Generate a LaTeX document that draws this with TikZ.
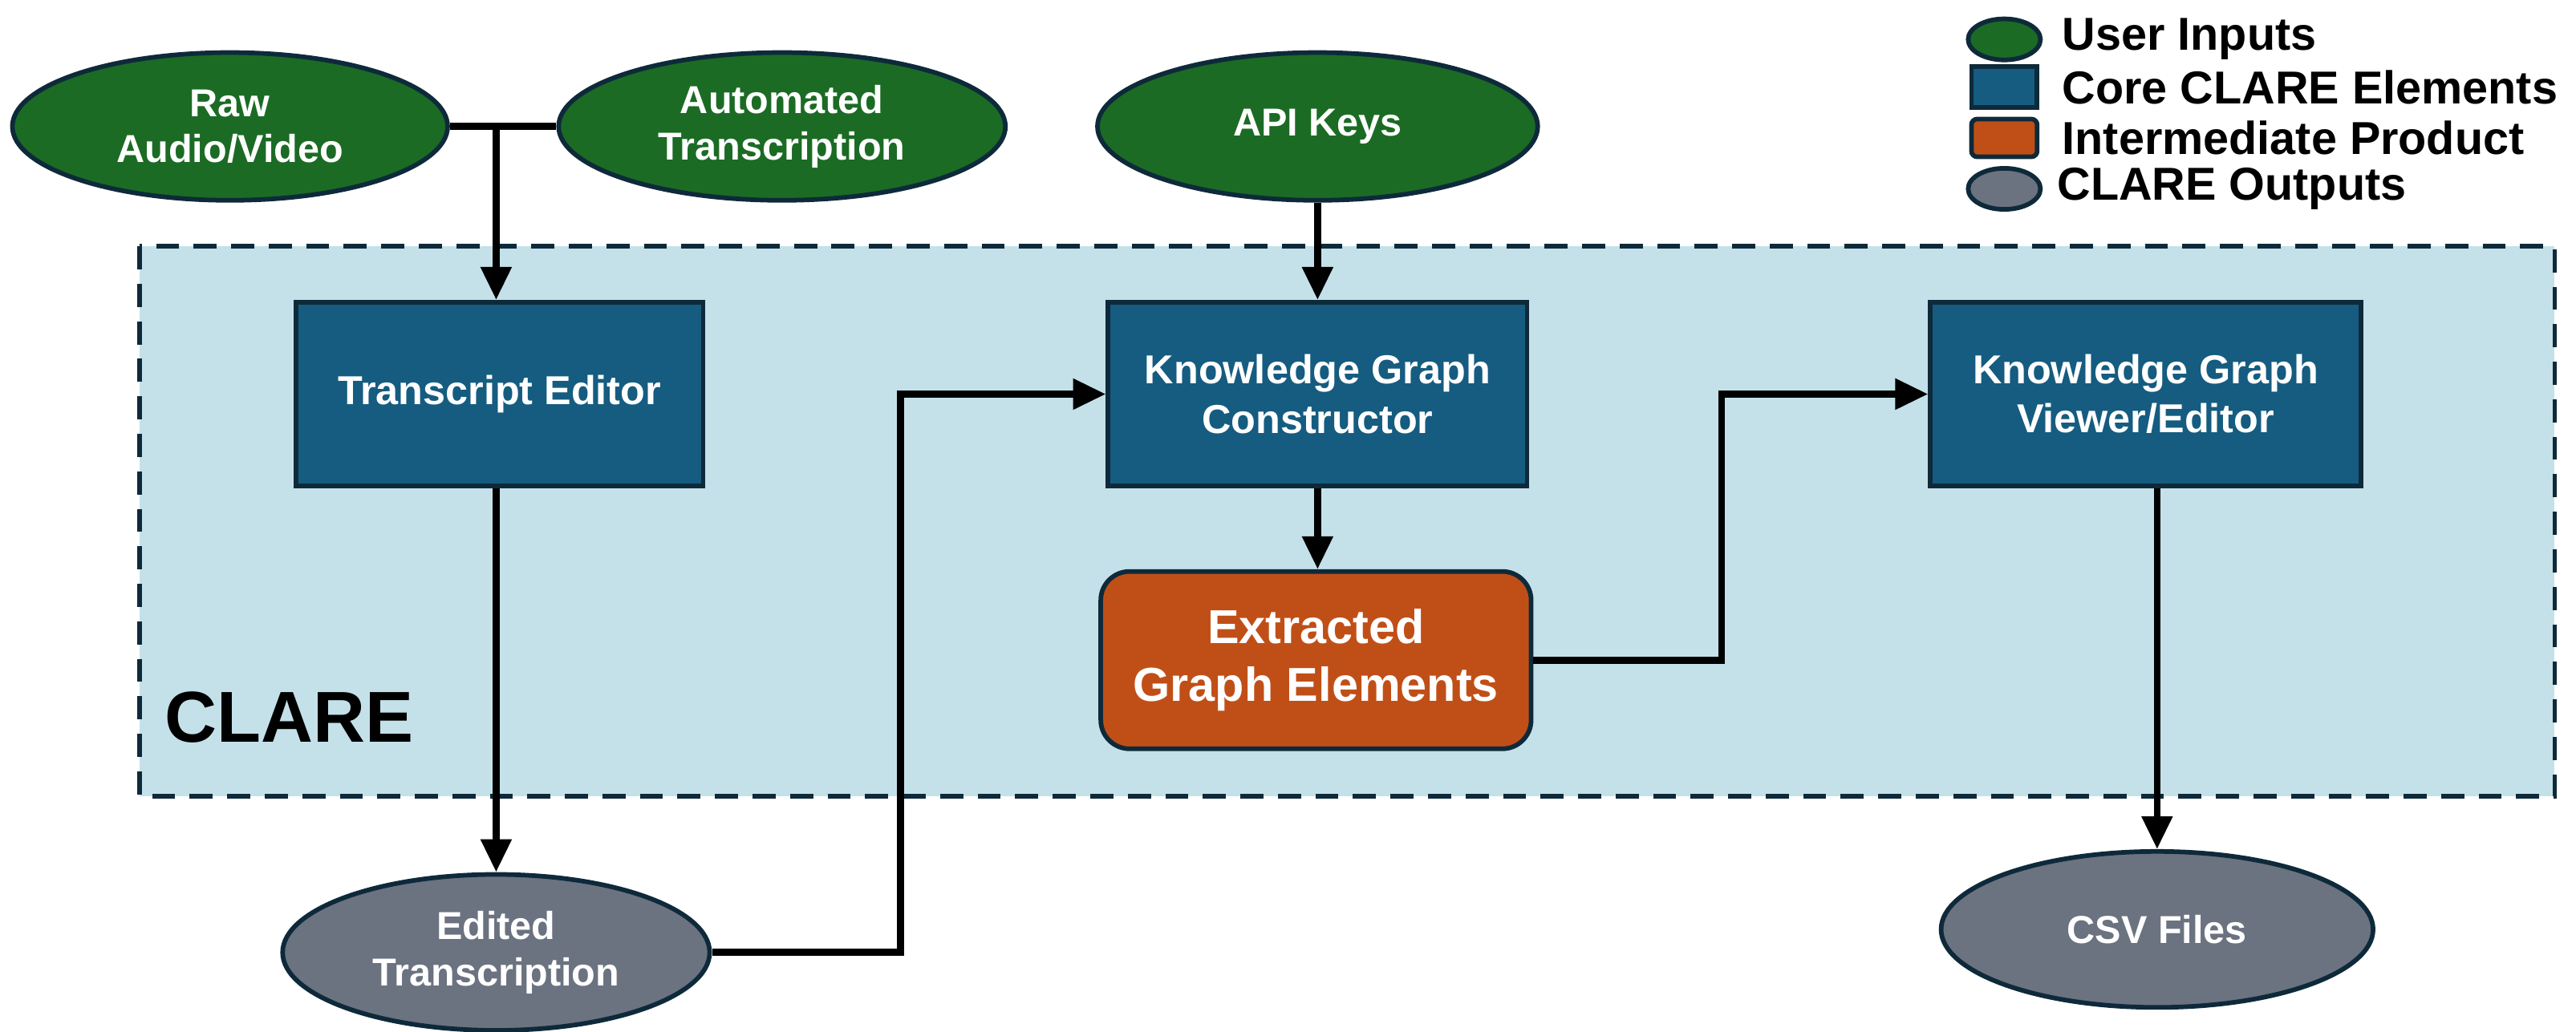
\documentclass[tikz,border=0pt]{standalone}
\usepackage{fontspec}
\setmainfont{Liberation Sans}
\usetikzlibrary{shapes.geometric,arrows.meta}
\definecolor{ugreen}{HTML}{1B6B24}
\definecolor{coreblue}{HTML}{155C80}
\definecolor{prodorange}{HTML}{C04F17}
\definecolor{outgrey}{HTML}{6B7280}
\definecolor{clarebg}{HTML}{C4E1EA}
\definecolor{edge}{HTML}{0E2A3A}
\begin{document}
\begin{tikzpicture}[x=0.02cm,y=-0.02cm,
  base/.style={draw=edge,line width=1.6pt,text=white,font=\bfseries\fontsize{13.5}{16}\selectfont,align=center,inner sep=0pt},
  input/.style={base,ellipse,fill=ugreen,minimum width=5.3cm,minimum height=1.8cm},
  output/.style={base,ellipse,fill=outgrey,minimum width=5.2cm,minimum height=1.9cm},
  core/.style={base,rectangle,fill=coreblue,minimum width=5.1cm,minimum height=2.24cm,font=\bfseries\fontsize{14}{17}\selectfont},
  prod/.style={base,rectangle,rounded corners=0.35cm,fill=prodorange,minimum width=5.24cm,minimum height=2.16cm,font=\bfseries\fontsize{16.5}{20}\selectfont},
  conn/.style={line width=2.4pt,black},
  arr/.style={conn,-{Triangle[length=0.4cm,width=0.36cm]}},
  legtext/.style={anchor=west,font=\bfseries\fontsize{16}{18}\selectfont,inner sep=0pt}]
\useasboundingbox (0,0) rectangle (1568,628);
% CLARE box
\draw[fill=clarebg,draw=edge,line width=1.6pt,dash pattern=on 8pt off 5pt] (85,150) rectangle (1555,485);
\node[anchor=west,font=\bfseries\fontsize{25}{30}\selectfont,inner sep=0pt] (clare) at (100,437) {CLARE};
% inputs
\node[input] (raw) at (140,77) {Raw\\Audio/Video};
\node[input,minimum width=5.44cm] (auto) at (476,77) {Automated\\Transcription};
\node[input,minimum width=5.36cm] (api) at (802,77) {API Keys};
% core
\node[core,minimum width=4.96cm] (ted) at (304,240) {Transcript Editor};
\node[core] (kgc) at (802,240) {Knowledge Graph\\Constructor};
\node[core,minimum width=5.24cm] (kgv) at (1306,240) {Knowledge Graph\\Viewer/Editor};
\node[prod] (ext) at (801,402) {Extracted\\Graph Elements};
% outputs
\node[output] (edt) at (302,580) {Edited\\Transcription};
\node[output,minimum width=5.26cm] (csv) at (1313,566) {CSV Files};
% connectors
\coordinate (j) at (302,77);
\draw[conn] (raw.east) -- (auto.west);
\draw[arr] (j) -- (ted.north -| j);
\draw[arr] (ted.south -| j) -- (edt.north);
\draw[arr] (edt.east) -| (548,240) -- (kgc.west);
\draw[arr] (api.south) -- (kgc.north);
\draw[arr] (kgc.south) -- (ext.north -| kgc.south);
\draw[arr] (ext.east) -| (1048,240) -- (kgv.west);
\draw[arr] (kgv.south -| csv.north) -- (csv.north);
% legend
\node[base,ellipse,fill=ugreen,minimum width=0.88cm,minimum height=0.5cm] (l1) at (1220,24) {};
\node[base,rectangle,fill=coreblue,minimum width=0.8cm,minimum height=0.5cm] (l2) at (1220,53) {};
\node[base,rectangle,rounded corners=2pt,fill=prodorange,minimum width=0.8cm,minimum height=0.46cm] (l3) at (1220,84) {};
\node[base,ellipse,fill=outgrey,minimum width=0.88cm,minimum height=0.5cm] (l4) at (1220,115) {};
\node[legtext] (t1) at (1255,24) {User Inputs};
\node[legtext] (t2) at (1255,53) {Core CLARE Elements};
\node[legtext] (t3) at (1255,84) {Intermediate Product};
\node[legtext] (t4) at (1252,115) {CLARE Outputs};
\end{tikzpicture}
\end{document}
